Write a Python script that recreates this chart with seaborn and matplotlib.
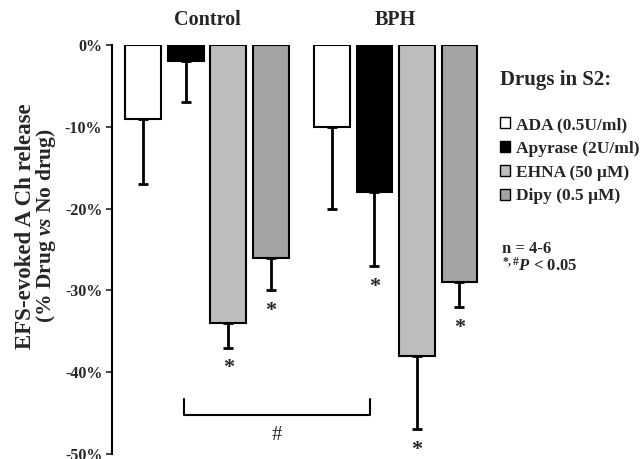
import matplotlib
matplotlib.use("Agg")
import matplotlib.pyplot as plt
import seaborn as sns
import pandas as pd
import numpy as np
from matplotlib.patches import Patch

groups = ["Control", "BPH"]
drugs = ["ADA (0.5U/ml)", "Apyrase (2U/ml)", "EHNA (50 \u00b5M)", "Dipy (0.5 \u00b5M)"]
control_vals = [-9, -2, -34, -26]
bph_vals = [-10, -18, -38, -29]
control_err = [8, 5, 3, 4]
bph_err = [10, 9, 9, 3]
control_sig = [False, False, True, True]
bph_sig = [False, True, True, True]
colors = ["#ffffff", "#000000", "#bdbdbd", "#a3a3a3"]
yticks = [0, -10, -20, -30, -40, -50]

sns.set_style("white")
plt.rcParams["font.family"] = ["Liberation Serif", "DejaVu Serif"]
plt.rcParams["font.weight"] = "bold"
plt.rcParams["mathtext.fontset"] = "custom"
plt.rcParams["mathtext.rm"] = "Liberation Serif:bold"
plt.rcParams["mathtext.it"] = "Liberation Serif:italic:bold"
plt.rcParams["mathtext.bf"] = "Liberation Serif:bold"

df = pd.DataFrame({
    "group": np.repeat(groups, len(drugs)),
    "drug": drugs * len(groups),
    "value": control_vals + bph_vals,
})

fig = plt.figure(figsize=(6.44, 4.59), dpi=100)
ax = fig.add_axes([0.174, 0.011, 0.587, 0.891])

sns.barplot(data=df, x="group", y="value", hue="drug", order=groups, hue_order=drugs,
            palette=colors, width=0.9, gap=0.16, edgecolor="black", linewidth=1.5,
            errorbar=None, legend=False, ax=ax)

vals = control_vals + bph_vals
errs = control_err + bph_err
sigs = control_sig + bph_sig
patches = ax.patches[:len(vals)]
xs = []
for i, v in enumerate(vals):
    gi, di = divmod(i, len(drugs))
    p = patches[di * len(groups) + gi]
    xs.append(p.get_x() + p.get_width() / 2)

for x, v, e, s in zip(xs, vals, errs, sigs):
    ax.errorbar(x, v, yerr=[[e], [0]], fmt="none", ecolor="black", elinewidth=2,
                capsize=3.5, capthick=2, zorder=1)
    if s:
        ax.annotate("*", (x, v - e), xytext=(0, -15), textcoords="offset points",
                    ha="center", va="center", fontsize=16, fontweight="bold")

ax.set_ylim(-50, 0)
ax.set_xlim(-0.503, 1.5)
ax.set_yticks(yticks)
ax.set_yticklabels([f"{t}%" for t in yticks], fontsize=11.5, fontweight="bold")
ax.tick_params(axis="y", direction="out", length=4, width=1.2, left=True, pad=3)
ax.set_xticks([])
ax.set_xlabel("")
ax.set_ylabel("")
for sp in ["top", "right", "bottom"]:
    ax.spines[sp].set_visible(False)
ax.spines["left"].set_linewidth(1.5)
ax.spines["left"].set_color("black")

# group labels on top
for gi, g in enumerate(groups):
    ax.text(gi, 1.06, g, transform=ax.get_xaxis_transform(), ha="center", va="center",
            fontsize=14.5, fontweight="bold")

# y label
fig.text(0.040, 0.508, "EFS-evoked A Ch release", rotation=90, ha="center", va="center",
         fontsize=16.5, fontweight="bold")
fig.text(0.072, 0.508, "(% Drug $\\mathit{vs}$ No drug)", rotation=90, ha="center", va="center",
         fontsize=15.5, fontweight="bold")

# bracket between Control Apyrase and BPH ADA
xb0 = xs[1] - 0.01
xb1 = xs[4] + 0.2
ax.plot([xb0, xb0, xb1, xb1], [-43.3, -45.2, -45.2, -43.3], color="black", lw=1.5,
        solid_joinstyle="round", clip_on=False)
ax.text((xb0 + xb1) / 2, -47.8, "#", ha="center", va="center", fontsize=15, fontweight="normal")

# legend
fig.text(0.777, 0.825, "Drugs in S2:", ha="left", va="center", fontsize=15, fontweight="bold")
handles = [Patch(facecolor=c, edgecolor="black", linewidth=1.0) for c in colors]
leg = fig.legend(handles, drugs, loc="upper left", bbox_to_anchor=(0.776, 0.745),
                 frameon=False, handlelength=0.6, handleheight=0.6, handletextpad=0.35,
                 labelspacing=0.45, prop={"family": "Liberation Serif", "weight": "bold", "size": 12.5},
                 borderaxespad=0, borderpad=0)
fig.text(0.780, 0.457, "n = 4-6", ha="left", va="center", fontsize=12, fontweight="bold")
fig.text(0.780, 0.420, "$^{*,\\#}\\mathit{P}$ < 0.05", ha="left", va="center", fontsize=12,
         fontweight="bold")

fig.savefig("out.png", dpi=100)
